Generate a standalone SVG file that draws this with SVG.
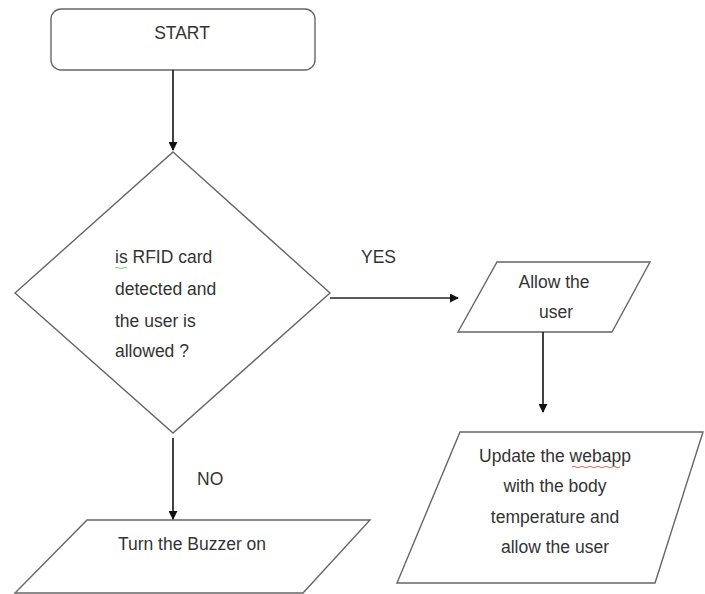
<svg xmlns="http://www.w3.org/2000/svg" width="705" height="594" viewBox="0 0 705 594">
<style>
.shape{fill:#fff;stroke:#666;stroke-width:1.4}
.conn{stroke:#222;stroke-width:1.7;fill:none}
text{font-family:"Liberation Sans",Arial,sans-serif;font-size:17.5px;fill:#333}
.c{text-anchor:middle}
.sq{fill:none;stroke-width:0.9}
</style>
<defs>
<marker id="ah" viewBox="0 0 10 10" refX="9" refY="5" markerWidth="9" markerHeight="9" markerUnits="userSpaceOnUse" orient="auto">
<path d="M0,0 L10,5 L0,10 z" fill="#111"/>
</marker>
</defs>
<rect width="705" height="594" fill="#fff"/>
<g id="start">
<rect class="shape" x="51" y="9" width="264" height="61" rx="10"/>
<text class="c" x="182" y="39">START</text>
</g>
<g id="decision">
<polygon class="shape" points="173,152 330,293 173,433 15,293"/>
<text x="115" y="263">is RFID card</text>
<text x="115" y="295">detected and</text>
<text x="115" y="327">the user is</text>
<text x="115" y="357">allowed ?</text>
<path class="sq" stroke="#6c6" d="M115,268 q2,-1.5 4,0 t4,0 t4,0"/>
</g>
<g id="allow">
<polygon class="shape" points="497,262 650,262 612,332 458,332"/>
<text class="c" x="554" y="288">Allow the</text>
<text class="c" x="556" y="318">user</text>
</g>
<g id="update">
<polygon class="shape" points="460,432 703,432 655,583 397,583"/>
<text class="c" x="555" y="462">Update the webapp</text>
<text class="c" x="555" y="492">with the body</text>
<text class="c" x="555" y="523">temperature and</text>
<text class="c" x="555" y="553">allow the user</text>
<path class="sq" stroke="#d55" d="M572,467 q2,-1.5 4,0 t4,0 t4,0 t4,0 t4,0 t4,0 t4,0 t4,0 t4,0 t4,0 t4,0 t4,0"/>
</g>
<g id="buzzer">
<polygon class="shape" points="87,520 370,520 303,593 15,593"/>
<text class="c" x="192" y="550">Turn the Buzzer on</text>
</g>
<g id="connectors">
<line class="conn" x1="173" y1="70" x2="173" y2="150" marker-end="url(#ah)"/>
<line class="conn" x1="330" y1="298" x2="458" y2="298" marker-end="url(#ah)"/>
<line class="conn" x1="543" y1="332" x2="543" y2="412" marker-end="url(#ah)"/>
<line class="conn" x1="173" y1="438" x2="173" y2="519" marker-end="url(#ah)"/>
<text x="361" y="263">YES</text>
<text x="197" y="485">NO</text>
</g>
</svg>
